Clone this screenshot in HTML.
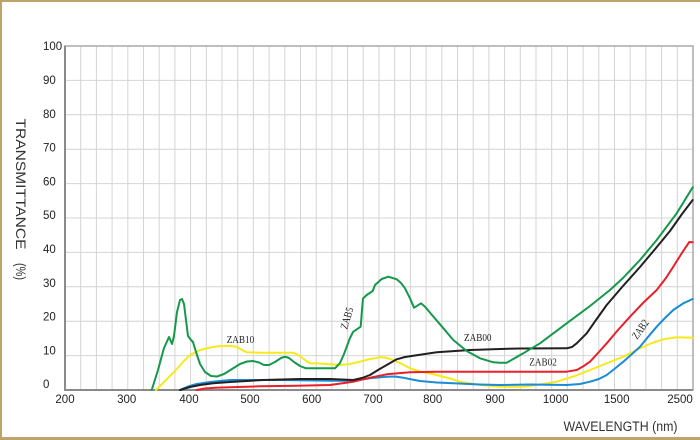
<!DOCTYPE html>
<html>
<head>
<meta charset="utf-8">
<style>
html,body{margin:0;padding:0;background:#fff;}
svg{display:block;}
</style>
</head>
<body>
<svg width="700" height="440" viewBox="0 0 700 440" xmlns="http://www.w3.org/2000/svg">
<rect x="0" y="0" width="700" height="440" fill="#fff"/>
<!-- gold frame -->
<rect x="0" y="0" width="700" height="2" fill="#bfa469"/>
<rect x="0" y="0" width="2" height="440" fill="#bfa469"/>
<rect x="0" y="437" width="700" height="3" fill="#bfa469"/>

<!-- grid -->
<g stroke="#d4d4d4" stroke-width="1">
<line x1="80.7" y1="46" x2="80.7" y2="390"/><line x1="96.4" y1="46" x2="96.4" y2="390"/><line x1="112.1" y1="46" x2="112.1" y2="390"/><line x1="127.8" y1="46" x2="127.8" y2="390"/><line x1="143.5" y1="46" x2="143.5" y2="390"/><line x1="159.2" y1="46" x2="159.2" y2="390"/><line x1="174.9" y1="46" x2="174.9" y2="390"/><line x1="190.6" y1="46" x2="190.6" y2="390"/><line x1="206.3" y1="46" x2="206.3" y2="390"/><line x1="222" y1="46" x2="222" y2="390"/><line x1="237.7" y1="46" x2="237.7" y2="390"/><line x1="253.4" y1="46" x2="253.4" y2="390"/><line x1="269.1" y1="46" x2="269.1" y2="390"/><line x1="284.8" y1="46" x2="284.8" y2="390"/><line x1="300.5" y1="46" x2="300.5" y2="390"/><line x1="316.2" y1="46" x2="316.2" y2="390"/><line x1="331.9" y1="46" x2="331.9" y2="390"/><line x1="347.6" y1="46" x2="347.6" y2="390"/><line x1="363.3" y1="46" x2="363.3" y2="390"/><line x1="379" y1="46" x2="379" y2="390"/><line x1="394.7" y1="46" x2="394.7" y2="390"/><line x1="410.4" y1="46" x2="410.4" y2="390"/><line x1="426.1" y1="46" x2="426.1" y2="390"/><line x1="441.8" y1="46" x2="441.8" y2="390"/><line x1="457.5" y1="46" x2="457.5" y2="390"/><line x1="473.2" y1="46" x2="473.2" y2="390"/><line x1="488.9" y1="46" x2="488.9" y2="390"/><line x1="504.6" y1="46" x2="504.6" y2="390"/><line x1="520.3" y1="46" x2="520.3" y2="390"/><line x1="536" y1="46" x2="536" y2="390"/><line x1="551.7" y1="46" x2="551.7" y2="390"/><line x1="567.4" y1="46" x2="567.4" y2="390"/><line x1="583.1" y1="46" x2="583.1" y2="390"/><line x1="598.8" y1="46" x2="598.8" y2="390"/><line x1="614.5" y1="46" x2="614.5" y2="390"/><line x1="630.2" y1="46" x2="630.2" y2="390"/><line x1="645.9" y1="46" x2="645.9" y2="390"/><line x1="661.6" y1="46" x2="661.6" y2="390"/><line x1="677.3" y1="46" x2="677.3" y2="390"/>
<line x1="65" y1="80.4" x2="693" y2="80.4"/><line x1="65" y1="114.8" x2="693" y2="114.8"/><line x1="65" y1="149.2" x2="693" y2="149.2"/><line x1="65" y1="183.6" x2="693" y2="183.6"/><line x1="65" y1="218" x2="693" y2="218"/><line x1="65" y1="252.4" x2="693" y2="252.4"/><line x1="65" y1="286.8" x2="693" y2="286.8"/><line x1="65" y1="321.2" x2="693" y2="321.2"/><line x1="65" y1="355.6" x2="693" y2="355.6"/>
</g>
<!-- frame -->
<rect x="65" y="46" width="628" height="344" fill="none" stroke="#a8a8a8" stroke-width="1.5"/>
<line x1="65" y1="46" x2="65" y2="391" stroke="#8a8a8a" stroke-width="2"/>
<line x1="64" y1="390" x2="693" y2="390" stroke="#8a8a8a" stroke-width="2"/>

<!-- y labels -->
<g font-family="Liberation Sans, Arial, sans-serif" font-size="11.5" fill="#222">
<text x="43" y="50.2">100</text>
<text x="43" y="84">90</text>
<text x="43" y="117.8">80</text>
<text x="43" y="151.6">70</text>
<text x="43" y="185.4">60</text>
<text x="43" y="219.2">50</text>
<text x="43" y="253">40</text>
<text x="43" y="286.8">30</text>
<text x="43" y="320.6">20</text>
<text x="43" y="354.4">10</text>
<text x="43" y="388.2">0</text>
</g>
<!-- x labels -->
<g font-family="Liberation Sans, Arial, sans-serif" font-size="11.5" fill="#222" text-anchor="middle">
<text x="65" y="403">200</text>
<text x="126.7" y="403">300</text>
<text x="189" y="403">400</text>
<text x="250" y="403">500</text>
<text x="311.7" y="403">600</text>
<text x="373" y="403">700</text>
<text x="432.7" y="403">800</text>
<text x="495" y="403">900</text>
<text x="555.7" y="403">1000</text>
<text x="616.7" y="403">1500</text>
<text x="680" y="403">2500</text>
</g>

<!-- axis titles -->
<text x="563.5" y="431" font-family="Liberation Sans, Arial, sans-serif" font-size="13.5" fill="#333" textLength="114" lengthAdjust="spacingAndGlyphs">WAVELENGTH (nm)</text>
<g transform="translate(16,0) rotate(90)">
<text x="118.5" y="0" font-family="Liberation Sans, Arial, sans-serif" font-size="14" fill="#333" textLength="131" lengthAdjust="spacingAndGlyphs">TRANSMITTANCE</text>
<text x="263" y="0" font-family="Liberation Sans, Arial, sans-serif" font-size="14" fill="#333" textLength="17" lengthAdjust="spacingAndGlyphs">(%)</text>
</g>

<!-- curves -->
<g fill="none" stroke-width="2" stroke-linejoin="round" stroke-linecap="round">
<polyline stroke="#f7e91a" points="156,390 165,381 175,371 183,362 190,355 200,350 210,347.5 220,346 230,346 236.7,346.7 242,350 246.7,352.3 260,352.7 280,352.7 293.3,352.7 300,356 305,360 310,363.3 320,363.5 330,364.3 340,365 350,364 360,361.7 370,359 380,357.3 385,357.5 390,359 400,363 410,368.3 420,371.5 436.7,375 450,378.5 460,381.7 480,385 500,386.7 523.3,386.7 540,384.5 556.7,381.7 575,376 590,370 605,364 623.3,356.7 640,348.3 652,343 663.3,339.3 676.7,337.3 692.7,337.7"/>
<polyline stroke="#1a8bd6" points="180,390 188,386.5 196.7,384 210,382 230,380 280,380 330,380.7 353.3,380.7 370,378.3 386.7,376.7 395,376.5 403.3,377.7 412,379.5 420,381 436.7,382.5 453.3,383.3 480,384.5 500,385 530,384.5 566.7,385 580,384 590,381.7 599,379 606.7,375 615,368.5 623.3,361.7 632,354 640,346.7 648,337 656.7,326.7 665,318 673.3,310 683.3,303.3 692.7,299"/>
<polyline stroke="#e8202a" points="196.7,390 205,388.5 215,387.8 230,387.3 260,386.3 296.7,385.7 330,385 353.3,381.7 370,377.7 386.7,374.3 410,372.3 436.7,371.7 500,371.7 566.7,371.7 576.7,370 583,366.5 590,361.7 598,353 606.7,343.3 618,330 630,316.7 643,303 656.7,290 666,278 673.3,266.7 680,256 685,248.3 689.3,242 692.7,242.3"/>
<polyline stroke="#231f20" points="180,390 190,387 200,385 213.3,383.3 230,382 263.3,380 300,379 330,379 353.3,380 362,378 370,375 378,370 386.7,365 396.7,359.3 405,357 413.3,355.7 436.7,352.3 470,350 500,349 520,348.5 566.7,348.3 572,347 576.7,343.3 586.7,333.3 596,320 606.7,305 623,286 640,267 656,248 670,231 682,214 692.7,200"/>
<polyline stroke="#14994a" points="151.7,390 158,370 164,348 169,337 172,344 174,336 177,312 180,300 182,299 184,304 186,320 188,336 191,340 193,342 196,352 200,364 205,372 211,376 217,376.5 224,374 232,369 240,364 247,361.5 253,361 259,362.5 264,365 269,365 275,362 281,358 285,356.7 289,358 294,362 300,366 306,368.3 315,368.3 335,368.3 340,363 344,354 347,346 350,338 353,332 356.7,329.3 360.7,326.7 362,310 363,298.5 366.7,295 372.7,291 375,285 381.7,279 388.3,276.7 396.7,279.3 401,283 405,288.3 410,298.3 414,307.7 417.3,305.7 421,303.3 425,306.7 432,315 440,324.3 453.3,340 466.7,351 480,358.3 493.3,362.3 500,362.7 506.7,362.7 515,358 523.3,353.3 540,343.3 566.7,323.3 590,306 610,290 623,278 640,260 656.7,240 676.7,213.3 692.7,187.3"/>
</g>

<!-- series labels -->
<g font-family="Liberation Serif, Times New Roman, serif" font-size="11" fill="#222">
<text x="226.7" y="343" textLength="27.5" lengthAdjust="spacingAndGlyphs">ZAB10</text>
<text x="464" y="341" textLength="27.5" lengthAdjust="spacingAndGlyphs">ZAB00</text>
<text x="529.3" y="365.5" textLength="27.5" lengthAdjust="spacingAndGlyphs">ZAB02</text>
<g transform="translate(346.5,318) rotate(-73)"><text x="-11" y="4" textLength="22" lengthAdjust="spacingAndGlyphs">ZAB5</text></g>
<g transform="translate(640,329) rotate(-55)"><text x="-10.5" y="4" textLength="21" lengthAdjust="spacingAndGlyphs">ZAB2</text></g>
</g>
</svg>
</body>
</html>
